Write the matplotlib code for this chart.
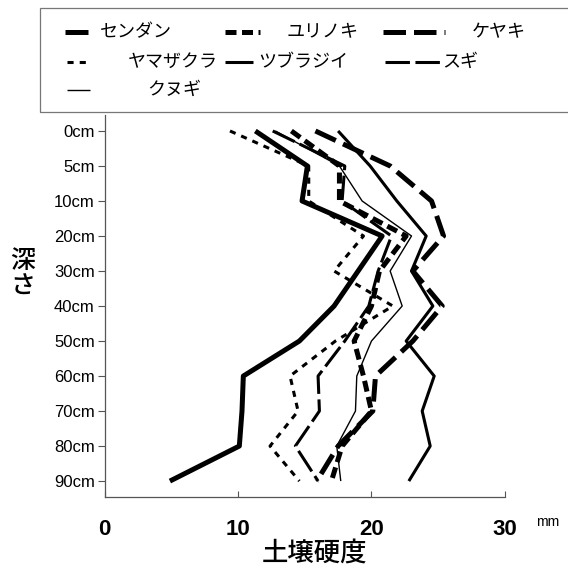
import matplotlib
matplotlib.use("Agg")
import matplotlib.pyplot as plt
from matplotlib.lines import Line2D

plt.rcParams['font.family'] = ['Liberation Sans', 'Noto Sans CJK JP', 'DejaVu Sans']
JP = ['Noto Sans CJK JP', 'DejaVu Sans']

# 深さ (cm) ごとの土壌硬度 (mm)
depths = ['0cm', '5cm', '10cm', '20cm', '30cm', '40cm', '50cm', '60cm', '70cm', '80cm', '90cm']
sendan = [11.3, 15.2, 14.8, 20.8, 19.0, 17.2, 14.6, 10.4, 10.3, 10.1, 4.9]
yurinoki = [14.0, 17.6, 17.6, 22.6, 20.6, 20.0, 18.7, 19.4, 20.0, 17.8, 17.0]
keyaki = [15.8, 21.4, 24.5, 25.4, 23.1, 25.3, 23.1, 20.3, 20.1, 17.5, 15.9]
yamazakura = [9.4, 15.3, 15.3, 19.4, 17.2, 21.6, 17.3, 13.9, 14.5, 12.4, 14.6]
tsuburajii = [17.5, 19.9, 21.9, 24.1, 23.0, 24.6, 22.6, 24.7, 23.8, 24.4, 22.8]
sugi = [12.6, 18.0, 17.8, 21.5, 20.5, 19.8, 18.0, 16.0, 16.1, 14.3, 16.0]
kunugi = [12.8, 17.6, 19.3, 23.0, 21.4, 22.3, 20.0, 18.9, 18.8, 17.4, 17.7]

names = ['センダン', 'ユリノキ', 'ケヤキ', 'ヤマザクラ', 'ツブラジイ', 'スギ', 'クヌギ']
series = [sendan, yurinoki, keyaki, yamazakura, tsuburajii, sugi, kunugi]
styles = [
    dict(lw=3.6, ls='-'),
    dict(lw=3.6, dashes=(2.2, 1.1)),
    dict(lw=3.6, dashes=(4.5, 1.6)),
    dict(lw=2.2, dashes=(2.0, 2.0)),
    dict(lw=2.2, ls='-'),
    dict(lw=2.2, dashes=(8.0, 1.8)),
    dict(lw=1.0, ls='-'),
]

fig = plt.figure(figsize=(5.68, 5.72), dpi=100)
ax = fig.add_axes([0.184, 0.131, 0.705, 0.668])

pos = list(range(len(depths)))
for vals, st in zip(series, styles):
    ax.plot(vals, pos, color='black', solid_capstyle='butt', dash_capstyle='butt', **st)

ax.set_xlim(0, 30)
ax.set_ylim(10.457, -0.457)
ax.set_yticks(pos)
ax.set_yticklabels(depths, fontsize=12)
ax.set_xticks([0, 10, 20, 30])
ax.set_xticklabels(['0', '10', '20', '30'], fontsize=16, fontweight='bold')
ax.tick_params(axis='y', direction='out', length=5, width=0.8, color='#555555', pad=2)
ax.tick_params(axis='x', direction='in', length=4, width=0.8, color='#555555', pad=16)
for s in ['top', 'right']:
    ax.spines[s].set_visible(False)
for s in ['left', 'bottom']:
    ax.spines[s].set_color('#555555')
    ax.spines[s].set_linewidth(0.9)

fig.text(548 / 568, 1 - 522 / 572, 'mm', fontsize=10, ha='center', va='center')
fig.text(314 / 568, 1 - 553 / 572, '土壌硬度', fontsize=19, fontweight='medium',
         ha='center', va='center', family=JP)
fig.text(23 / 568, 1 - 274 / 572, '深\nさ', fontsize=18, fontweight='medium',
         ha='center', va='center', family=JP, linespacing=1.0)

# 凡例 (枠と各項目)
W, H = 568, 572
fig.add_artist(plt.Rectangle((40 / W, 1 - 112 / H), 540 / W, 104 / H, fill=False,
                             edgecolor='#777777', lw=0.9, transform=fig.transFigure))
legend_items = [
    # (handle x0, x1, row y, label x)
    (65, 88, 32, 100),
    (225, 260, 32, 287),
    (383, 445, 32, 472),
    (67, 90, 62, 128),
    (225, 253, 62, 258),
    (385, 440, 62, 442),
    (67, 90, 90, 147),
]
for (x0, x1, y, lx), name, st in zip(legend_items, names, styles):
    fig.add_artist(Line2D([x0 / W, x1 / W], [1 - y / H, 1 - y / H], color='black',
                          solid_capstyle='butt', dash_capstyle='butt',
                          transform=fig.transFigure, **st))
    fig.text(lx / W, 1 - y / H, name, fontsize=13, ha='left', va='center', family=JP)

fig.savefig('out.png', dpi=100)
